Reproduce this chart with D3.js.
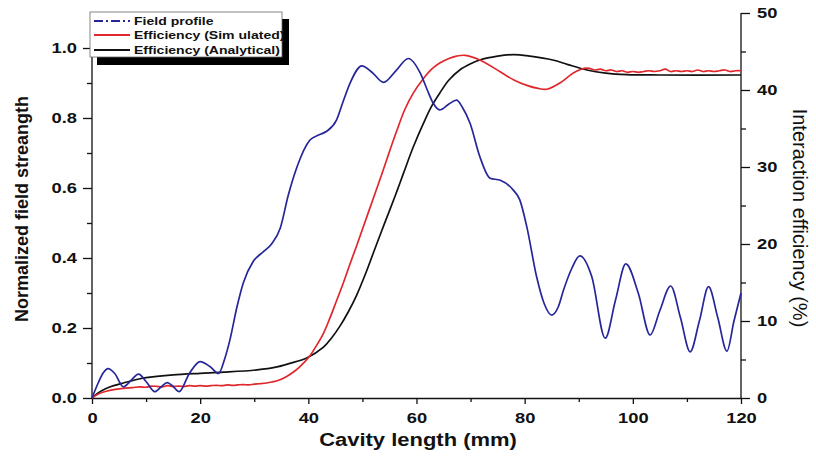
<!DOCTYPE html>
<html>
<head>
<meta charset="utf-8">
<script src="https://cdn.jsdelivr.net/npm/d3@7"></script>
<style>
  html, body { margin: 0; padding: 0; background: #fff; }
  svg { display: block; }
  text { font-family: "Liberation Sans", Arial, sans-serif; fill: #111; }
</style>
</head>
<body>
<svg id="chart" width="816" height="461"></svg>
<script>
// Cavity length samples (mm) and normalized field strength profile
const fieldX = [0, 1.2, 2, 3.0, 4.2, 5.8, 7.2, 8.6, 10.1, 11.6, 12.8, 13.9, 15, 16.1, 18, 20.0, 21.8, 23.4, 24.5, 25.5,
  26.8, 28, 29.8, 31.7, 33.2, 34.8, 36.3, 37.9, 40.3, 42, 43.4, 45.2, 46.5, 47.7, 49.9, 51.8, 53.9, 56.3, 58.5, 60.7,
  62, 63.1, 64.3, 66, 67.4, 68.5, 69.9, 71.7, 73.6, 75.5, 77.9, 79.1, 80.4, 82.2, 83.6, 85, 86.2, 87.2, 88.7, 90.2,
  92.4, 94.9, 96.8, 98.7, 101, 103.2, 105, 107.0, 108.8, 110.6, 112.3, 114.0, 115.7, 117.4, 118.7, 120];
const fieldY = [0, 0.045, 0.07, 0.084, 0.07, 0.032, 0.05, 0.068, 0.045, 0.018, 0.032, 0.044, 0.033, 0.018, 0.07, 0.104, 0.09, 0.07, 0.11, 0.166,
  0.26, 0.33, 0.39, 0.418, 0.44, 0.485, 0.58, 0.66, 0.737, 0.752, 0.762, 0.794, 0.85, 0.899, 0.949, 0.93, 0.902, 0.937, 0.970, 0.928,
  0.88, 0.842, 0.823, 0.84, 0.851, 0.83, 0.785, 0.69, 0.628, 0.622, 0.594, 0.566, 0.489, 0.347, 0.27, 0.237, 0.26, 0.309, 0.37, 0.406,
  0.347, 0.171, 0.28, 0.383, 0.30, 0.18, 0.25, 0.32, 0.23, 0.132, 0.22, 0.318, 0.23, 0.134, 0.22, 0.30];

// Simulated interaction efficiency (%)
const simX = [0, 1, 2, 3.3, 5.8, 7.5, 8.9, 10, 11, 12, 13, 14, 15, 16, 17, 18, 19, 20, 21, 22, 23, 24, 25, 26, 27, 28, 29, 30, 31,
  32.3, 34.5, 36, 37.5, 38.5, 40.3, 41.5, 42.8, 44, 45.2, 46.5, 47.7, 49, 50.2, 51.3, 52.3, 53.5, 54.8, 56.3, 57.8, 59.4, 61.3,
  62.8, 64.3, 66, 67.4, 69, 71.7, 75.4, 78, 80.4, 82.5, 84.1, 86.5, 89, 91, 92, 93, 94, 95, 96, 97, 98, 99, 100, 101, 102, 103,
  104, 105, 106, 107, 108, 109, 110, 111, 112, 113, 114, 115, 116, 117, 118, 119, 120];
const simY = [0, 0.45, 0.75, 1.0, 1.25, 1.35, 1.45, 1.4, 1.55, 1.5, 1.45, 1.6, 1.5, 1.55, 1.5, 1.6, 1.55, 1.6, 1.55, 1.6, 1.65, 1.6, 1.7, 1.65, 1.7, 1.75, 1.7, 1.8, 1.85,
  1.95, 2.3, 2.8, 3.5, 4.1, 5.5, 6.8, 8.4, 10.4, 12.6, 15.0, 17.4, 19.9, 22.3, 24.5, 26.5, 28.9, 31.6, 34.6, 37.4, 39.6, 41.5,
  42.7, 43.5, 44.1, 44.4, 44.5, 43.9, 42.4, 41.3, 40.6, 40.2, 40.1, 40.9, 42.2, 42.8, 42.8, 42.6, 42.7, 42.5, 42.6, 42.4, 42.5, 42.3, 42.4, 42.3, 42.4, 42.5,
  42.4, 42.5, 42.7, 42.4, 42.5, 42.4, 42.5, 42.4, 42.6, 42.4, 42.5, 42.4, 42.5, 42.6, 42.4, 42.5, 42.5];

// Analytical interaction efficiency (%)
const anaX = [0, 1, 2.5, 4, 5.8, 8.9, 12, 15, 20, 24.3, 30.5, 34, 36.6, 39.7, 42.8, 44.3, 45.9, 47.4, 48.9, 50.5, 52.0, 53.5,
  55.1, 56.4, 57.6, 59.4, 61.3, 62.8, 64.3, 66, 68, 70, 71.7, 75, 77.9, 81, 85.2, 88, 91.5, 95, 98.9, 105, 120];
const anaY = [0, 0.6, 1.2, 1.6, 1.95, 2.5, 2.8, 3.0, 3.2, 3.35, 3.65, 4.0, 4.5, 5.2, 6.6, 7.8, 9.4, 11.2, 13.3, 16.0, 18.8, 21.6,
  24.5, 26.9, 29.2, 32.6, 35.7, 37.9, 39.6, 41.3, 42.6, 43.4, 43.9, 44.4, 44.6, 44.4, 43.9, 43.3, 42.6, 42.2, 42.0, 41.95, 41.95];

// Axis ticks
const xTicks = [0, 20, 40, 60, 80, 100, 120];
const xMinor = [10, 30, 50, 70, 90, 110];
const leftTicks = [0, 0.2, 0.4, 0.6, 0.8, 1.0];
const leftMinor = [0.1, 0.3, 0.5, 0.7, 0.9];
const rightTicks = [0, 10, 20, 30, 40, 50];
const rightMinor = [5, 15, 25, 35, 45];

const seriesNames = ["Field profile", "Efficiency (Sim ulated)", "Efficiency (Analytical)"];
const seriesColors = ["#26269a", "#e0282c", "#111111"];

const svg = d3.select("#chart");
const m = { left: 92, right: 741, top: 13, bottom: 398 };
const STRETCH = 1.22;

const x = d3.scaleLinear().domain([0, 120]).range([m.left, m.right]);
const yL = d3.scaleLinear().domain([0, 1.1]).range([m.bottom, m.top]);
const yR = d3.scaleLinear().domain([0, 50]).range([m.bottom, m.top]);

// Horizontally widen text so the bold labels have a broad look
function widen(sel, k) {
  sel.each(function () {
    const L = this.getComputedTextLength();
    if (L > 0) {
      this.setAttribute("textLength", (L * k).toFixed(2));
      this.setAttribute("lengthAdjust", "spacingAndGlyphs");
    }
  });
}

function styleAxis(g, fontSize) {
  g.select(".domain").attr("stroke", "#111").attr("stroke-width", 1.3);
  g.selectAll(".tick line").attr("stroke", "#111").attr("stroke-width", 1.3);
  g.selectAll(".tick text")
    .attr("font-size", fontSize)
    .attr("font-weight", "bold")
    .attr("fill", "#111")
    .style("font-family", '"Liberation Sans", Arial, sans-serif');
}

// Minor ticks
svg.append("g").attr("transform", `translate(0,${m.bottom})`)
  .call(d3.axisBottom(x).tickValues(xMinor).tickSize(4).tickFormat("").tickSizeOuter(0))
  .call(g => { styleAxis(g, 0); g.select(".domain").remove(); });
svg.append("g").attr("transform", `translate(${m.left},0)`)
  .call(d3.axisLeft(yL).tickValues(leftMinor).tickSize(5).tickFormat("").tickSizeOuter(0))
  .call(g => { styleAxis(g, 0); g.select(".domain").remove(); });
svg.append("g").attr("transform", `translate(${m.right},0)`)
  .call(d3.axisRight(yR).tickValues(rightMinor).tickSize(5).tickFormat("").tickSizeOuter(0))
  .call(g => { styleAxis(g, 0); g.select(".domain").remove(); });

// Major axes
const gx = svg.append("g").attr("transform", `translate(0,${m.bottom})`)
  .call(d3.axisBottom(x).tickValues(xTicks).tickSize(6).tickPadding(8).tickSizeOuter(0).tickFormat(d3.format("d")));
styleAxis(gx, 15);
const gl = svg.append("g").attr("transform", `translate(${m.left},0)`)
  .call(d3.axisLeft(yL).tickValues(leftTicks).tickSize(9).tickPadding(6).tickSizeOuter(0).tickFormat(d3.format(".1f")));
styleAxis(gl, 15);
gl.select(".domain").attr("d", `M0,${m.bottom}V${m.top}`);
const gr = svg.append("g").attr("transform", `translate(${m.right},0)`)
  .call(d3.axisRight(yR).tickValues(rightTicks).tickSize(9).tickPadding(7).tickSizeOuter(0).tickFormat(d3.format("d")));
styleAxis(gr, 15);
gr.select(".domain").attr("d", `M0,${m.bottom}V${m.top}`);
widen(svg.selectAll(".tick text"), STRETCH);

// Curves
const plot = svg.append("g");
function drawLine(xs, ys, yScale, color, curve) {
  const pts = xs.map((d, i) => [d, ys[i]]);
  plot.append("path")
    .datum(pts)
    .attr("fill", "none")
    .attr("stroke", color)
    .attr("stroke-width", 1.7)
    .attr("stroke-linejoin", "round")
    .attr("d", d3.line().x(d => x(d[0])).y(d => yScale(d[1])).curve(curve));
}
drawLine(anaX, anaY, yR, seriesColors[2], d3.curveCatmullRom.alpha(0.5));
drawLine(simX, simY, yR, seriesColors[1], d3.curveCatmullRom.alpha(0.5));
drawLine(fieldX, fieldY, yL, seriesColors[0], d3.curveMonotoneX);

// Legend with drop shadow
const lg = svg.append("g");
lg.append("rect").attr("x", 97).attr("y", 19).attr("width", 192).attr("height", 46).attr("fill", "#000");
lg.append("rect").attr("x", 90).attr("y", 12).attr("width", 192).attr("height", 45)
  .attr("fill", "#fff").attr("stroke", "#666").attr("stroke-width", 0.8);
const rowY = [21, 35, 50];
seriesNames.forEach((name, i) => {
  lg.append("line").attr("x1", 94).attr("x2", 130).attr("y1", rowY[i]).attr("y2", rowY[i])
    .attr("stroke", seriesColors[i]).attr("stroke-width", 1.8)
    .attr("stroke-dasharray", i === 0 ? "9,3,2,3" : null);
  lg.append("text").attr("x", 134).attr("y", rowY[i] + 4)
    .attr("font-size", 11.5).attr("font-weight", "bold").text(name);
});
widen(lg.selectAll("text"), STRETCH);

// Axis titles
const tb = svg.append("text").attr("x", 418).attr("y", 446).attr("text-anchor", "middle")
  .attr("font-size", 18).attr("font-weight", "bold").text("Cavity length (mm)");
widen(tb, STRETCH);
svg.append("text").attr("transform", "translate(28,209) rotate(-90)").attr("text-anchor", "middle")
  .attr("font-size", 18).attr("font-weight", "bold").text("Normalized field streangth");
svg.append("text").attr("transform", "translate(793,218) rotate(90)").attr("text-anchor", "middle")
  .attr("font-size", 20).text("Interaction efficiency (%)");
</script>
</body>
</html>
